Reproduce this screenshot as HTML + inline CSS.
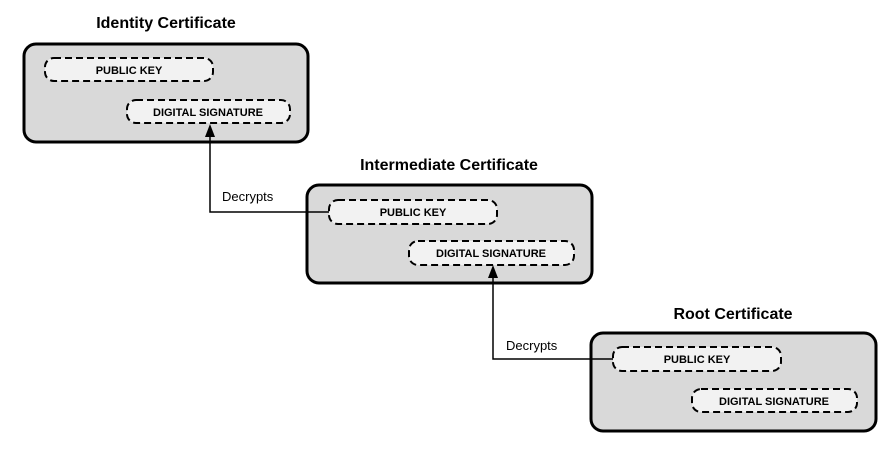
<!DOCTYPE html>
<html><head><meta charset="utf-8"><style>
html,body{margin:0;padding:0;background:#fff;width:894px;height:449px;overflow:hidden}
svg text{font-family:"Liberation Sans",Arial,sans-serif}
</style></head><body>
<svg width="894" height="449" viewBox="0 0 894 449" xmlns="http://www.w3.org/2000/svg">
<g font-weight="bold" font-size="16" text-anchor="middle" fill="#000">
<text x="166" y="28">Identity Certificate</text>
<text x="449" y="170">Intermediate Certificate</text>
<text x="733" y="319">Root Certificate</text>
</g>
<g fill="#d9d9d9" stroke="#000" stroke-width="3">
<rect x="24" y="44" width="284" height="98" rx="12"/>
<rect x="307" y="185" width="285" height="98" rx="12"/>
<rect x="591" y="333" width="285" height="98" rx="12"/>
</g>
<g fill="#f2f2f2" stroke="#000" stroke-width="2" stroke-dasharray="7,4">
<rect x="45" y="58" width="168" height="23" rx="9"/>
<rect x="127" y="100" width="163" height="23" rx="9"/>
<rect x="329" y="200" width="168" height="24" rx="9"/>
<rect x="409" y="241" width="165" height="24" rx="9"/>
<rect x="613" y="347" width="168" height="24" rx="9"/>
<rect x="692" y="389" width="165" height="23" rx="9"/>
</g>
<g font-weight="bold" font-size="11" text-anchor="middle" fill="#000">
<text x="129" y="74">PUBLIC KEY</text>
<text x="208" y="116">DIGITAL SIGNATURE</text>
<text x="413" y="216">PUBLIC KEY</text>
<text x="491" y="257">DIGITAL SIGNATURE</text>
<text x="697" y="363">PUBLIC KEY</text>
<text x="774" y="405">DIGITAL SIGNATURE</text>
</g>
<g fill="none" stroke="#000" stroke-width="1.5">
<path d="M329,212 H210 V135"/>
<path d="M613,359 H493 V277"/>
</g>
<path d="M205,137 L210,124 L215,137 Z"/>
<path d="M488,278 L493,265 L498,278 Z"/>
<g font-size="13" fill="#000">
<text x="222" y="201">Decrypts</text>
<text x="506" y="350">Decrypts</text>
</g>
</svg>
</body></html>
